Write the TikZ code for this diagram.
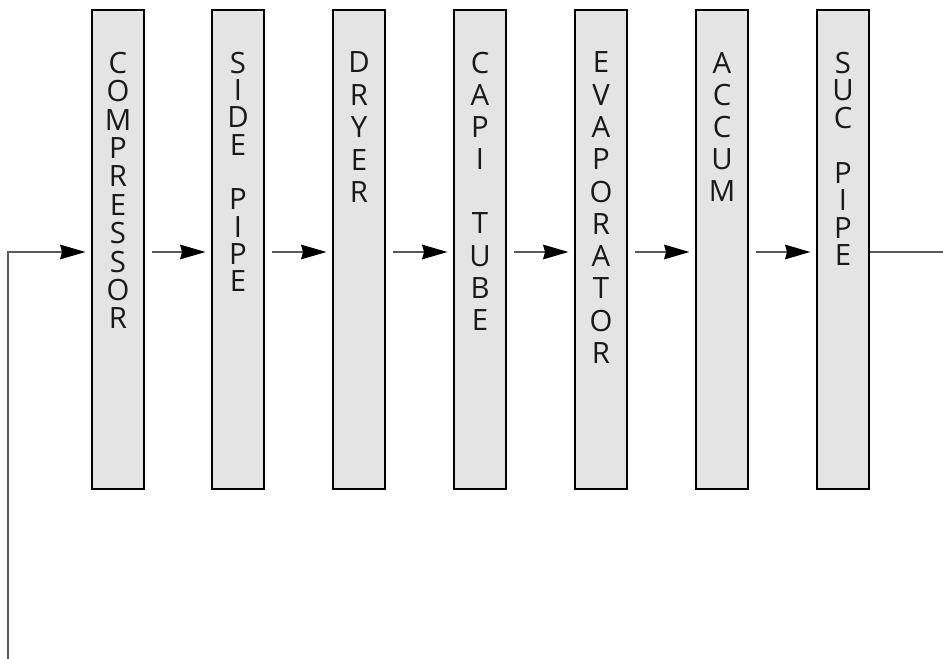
\documentclass[tikz,border=0pt]{standalone}
\usepackage{fontspec}
\setmainfont{Open Sans}
\usetikzlibrary{arrows.meta}
\definecolor{boxgray}{HTML}{E4E4E4}
\definecolor{pipegray}{HTML}{5A5A5A}
\newcommand{\letterstack}[2]{\parbox[c][359.25pt][t]{39pt}{\vspace*{31.5pt}\centering\color{black!90}\fontsize{22}{#1}\selectfont #2\par}}
\begin{document}
\begin{tikzpicture}[x=0.75pt,y=-0.75pt,
  unit/.style={draw,fill=boxgray,line width=0.9pt,inner sep=0pt,minimum width=39pt,minimum height=359.25pt},
  pipe/.style={draw=pipegray,line width=0.8pt},
  flow/.style={pipe,-{Stealth[length=19pt,width=11pt,inset=1.5pt,black]},shorten >=4.5pt}]
\useasboundingbox (0,0) rectangle (943,659);
\node [unit] (comp) at (118,249.5) {\letterstack{21.3pt}{C\\O\\M\\P\\R\\E\\S\\S\\O\\R}};
\node [unit] (side) at (238,249.5) {\letterstack{20.5pt}{S\\I\\D\\E\\\mbox{}\\P\\I\\P\\E}};
\node [unit] (dryer) at (359,249.5) {\letterstack{24.3pt}{D\\R\\Y\\E\\R}};
\node [unit] (capi) at (480,249.5) {\letterstack{24.1pt}{C\\A\\P\\I\\\mbox{}\\T\\U\\B\\E}};
\node [unit] (evap) at (601,249.5) {\letterstack{24.2pt}{E\\V\\A\\P\\O\\R\\A\\T\\O\\R}};
\node [unit] (accum) at (722,249.5) {\letterstack{24pt}{A\\C\\C\\U\\M}};
\node [unit] (suc) at (843,249.5) {\letterstack{20.6pt}{S\\U\\C\\\mbox{}\\P\\I\\P\\E}};
\coordinate (ret) at (8,659);
\coordinate (out) at (943,252);
\draw [flow] (ret) |- (comp.west |- out);
\draw [flow,shorten <=5.25pt] (comp.east |- out) -- (side.west |- out);
\draw [flow,shorten <=5.25pt] (side.east |- out) -- (dryer.west |- out);
\draw [flow,shorten <=5.25pt] (dryer.east |- out) -- (capi.west |- out);
\draw [flow,shorten <=5.25pt] (capi.east |- out) -- (evap.west |- out);
\draw [flow,shorten <=5.25pt] (evap.east |- out) -- (accum.west |- out);
\draw [flow,shorten <=5.25pt] (accum.east |- out) -- (suc.west |- out);
\draw [pipe] (suc.east |- out) -- (out);
\end{tikzpicture}
\end{document}
